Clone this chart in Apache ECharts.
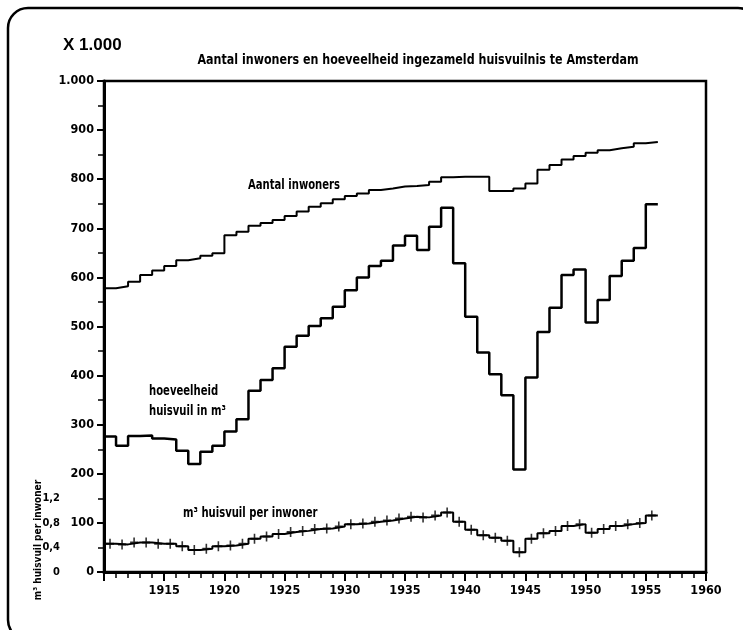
<!DOCTYPE html>
<html>
<head>
<meta charset="utf-8">
<script src="https://cdn.jsdelivr.net/npm/echarts@6/dist/echarts.min.js"></script>
<style>
  html, body { margin: 0; padding: 0; background: #fff; overflow: hidden; }
  #chart { width: 743px; height: 630px; }
</style>
</head>
<body>
<div id="chart"></div>
<script>
// jaren (elke stap = 1 jaar)
const years = [1910, 1911, 1912, 1913, 1914, 1915, 1916, 1917, 1918, 1919,
  1920, 1921, 1922, 1923, 1924, 1925, 1926, 1927, 1928, 1929,
  1930, 1931, 1932, 1933, 1934, 1935, 1936, 1937, 1938, 1939,
  1940, 1941, 1942, 1943, 1944, 1945, 1946, 1947, 1948, 1949,
  1950, 1951, 1952, 1953, 1954, 1955];

// aantal inwoners x 1.000
const inwoners = [578, 582, 591, 605, 614, 623, 635, 639, 644, 649,
  686, 693, 705, 711, 717, 725, 734, 744, 751, 759,
  766, 771, 778, 781, 785, 786, 788, 795, 804, 805,
  805, 805, 776, 776, 781, 791, 819, 829, 840, 847,
  854, 859, 863, 866, 873, 876];

// hoeveelheid huisvuil in m3 x 1.000
const huisvuil = [276, 257, 277, 278, 272, 270, 247, 220, 245, 257,
  286, 311, 369, 391, 415, 459, 481, 501, 517, 540,
  574, 600, 623, 634, 665, 685, 656, 703, 742, 629,
  520, 447, 403, 360, 209, 396, 489, 538, 605, 616,
  508, 554, 603, 634, 660, 749];

// m3 huisvuil per inwoner
const perInwoner = [0.46, 0.45, 0.48, 0.48, 0.46, 0.46, 0.42, 0.36, 0.38, 0.42,
  0.43, 0.46, 0.54, 0.58, 0.62, 0.65, 0.67, 0.70, 0.71, 0.74,
  0.78, 0.79, 0.82, 0.84, 0.87, 0.90, 0.89, 0.92, 0.97, 0.82,
  0.69, 0.60, 0.56, 0.51, 0.32, 0.54, 0.63, 0.67, 0.75, 0.78,
  0.64, 0.70, 0.75, 0.78, 0.80, 0.92];

const perInwonerTicks = [0, 0.4, 0.8, 1.2];

const narrow = "'DejaVu Sans Condensed', 'Liberation Sans Narrow', sans-serif";

// trap: waarde geldt van jaar tot jaar+1
function stepData(vals) {
  const d = years.map((y, i) => [y, vals[i]]);
  d.push([years[years.length - 1] + 1, vals[vals.length - 1]]);
  return d;
}

function label(text, x, y, size, sx, align) {
  return {
    type: 'text', x: x, y: y, scaleX: sx, scaleY: 1.05,
    style: { text: text, font: 'bold ' + size + 'px ' + narrow, fill: '#000', align: align || 'left', verticalAlign: 'middle' }
  };
}

const frameStyle = { fill: 'none', stroke: '#000', lineWidth: 2.5 };

const chart = echarts.init(document.getElementById('chart'), null, { renderer: 'canvas' });

const option = {
  animation: false,
  backgroundColor: '#fff',
  textStyle: { fontFamily: narrow, color: '#000' },
  grid: {
    left: 104, right: 37, top: 81, bottom: 58,
    show: true, borderColor: '#000', borderWidth: 2.5, backgroundColor: 'transparent'
  },
  xAxis: {
    type: 'value',
    min: 1910, max: 1960, interval: 5,
    axisLine: { lineStyle: { color: '#000', width: 3 } },
    axisTick: { length: 9, lineStyle: { color: '#000', width: 2 } },
    minorTick: { show: true, splitNumber: 5, length: 6, lineStyle: { color: '#000', width: 1.5 } },
    splitLine: { show: false },
    axisLabel: {
      margin: 12, color: '#000', fontFamily: narrow, fontWeight: 'bold', fontSize: 12.5,
      formatter: v => (v === 1910 ? '' : String(v))
    }
  },
  yAxis: [
    {
      type: 'value',
      min: 0, max: 1000, interval: 100,
      axisLine: { show: true, lineStyle: { color: '#000', width: 3 } },
      axisTick: { show: true, length: 7, lineStyle: { color: '#000', width: 2 } },
      minorTick: { show: true, splitNumber: 2, length: 6, lineStyle: { color: '#000', width: 1.5 } },
      splitLine: { show: false },
      axisLabel: {
        margin: 10, color: '#000', fontFamily: narrow, fontWeight: 'bold', fontSize: 12.5,
        formatter: v => (v === 1000 ? '1.000' : String(v))
      }
    },
    {
      type: 'value',
      position: 'left',
      offset: 40,
      min: 0, max: 8, interval: 0.4,
      axisLine: { show: false },
      axisTick: { show: false },
      splitLine: { show: false },
      axisLabel: {
        margin: 4, color: '#000', fontFamily: narrow, fontWeight: 'bold', fontSize: 11,
        formatter: v => {
          const t = perInwonerTicks.find(p => Math.abs(p - v) < 1e-6);
          if (t === undefined) return '';
          return t === 0 ? '0' : t.toFixed(1).replace('.', ',');
        }
      }
    }
  ],
  series: [
    {
      name: 'Aantal inwoners',
      type: 'line', step: 'end', showSymbol: false,
      data: stepData(inwoners),
      lineStyle: { color: '#000', width: 2 }
    },
    {
      name: 'hoeveelheid huisvuil in m³',
      type: 'line', step: 'end', showSymbol: false,
      data: stepData(huisvuil),
      lineStyle: { color: '#000', width: 2.5 }
    },
    {
      name: 'm³ huisvuil per inwoner',
      type: 'line', step: 'end', showSymbol: false,
      yAxisIndex: 1,
      data: stepData(perInwoner),
      lineStyle: { color: '#000', width: 2 }
    },
    {
      name: 'kruisjes',
      type: 'scatter',
      yAxisIndex: 1,
      symbol: 'path://M4,0h2v10h-2zM0,4h10v2h-10z',
      symbolSize: [8, 10],
      itemStyle: { color: '#000' },
      data: years.map((y, i) => [y + 0.5, perInwoner[i]])
    }
  ],
  graphic: [
    // kader rond de figuur: links, boven en de hoeken
    { type: 'line', silent: true, shape: { x1: 8, y1: 28, x2: 8, y2: 620 }, style: frameStyle },
    { type: 'line', silent: true, shape: { x1: 28, y1: 8, x2: 738, y2: 8 }, style: frameStyle },
    { type: 'arc', silent: true, shape: { cx: 28, cy: 28, r: 20, startAngle: Math.PI, endAngle: Math.PI * 1.5 }, style: frameStyle },
    { type: 'arc', silent: true, shape: { cx: 738, cy: 28, r: 20, startAngle: Math.PI * 1.5, endAngle: Math.PI * 2 }, style: frameStyle },
    { type: 'arc', silent: true, shape: { cx: 28, cy: 620, r: 20, startAngle: Math.PI * 0.5, endAngle: Math.PI }, style: frameStyle },
    {
      type: 'text', x: 63, y: 45,
      style: { text: 'X 1.000', font: 'bold 17px "Liberation Sans", Arial, sans-serif', fill: '#000', align: 'left', verticalAlign: 'middle' }
    },
    label('Aantal inwoners en hoeveelheid ingezameld huisvuilnis te Amsterdam', 418, 60, 13, 0.95, 'center'),
    label('Aantal inwoners', 248, 185, 13, 0.86),
    label('hoeveelheid', 149, 391, 13, 0.86),
    label('huisvuil in m³', 149, 411, 13, 0.86),
    label('m³ huisvuil per inwoner', 183, 513, 13, 0.86),
    {
      type: 'text', x: 38, y: 540, rotation: Math.PI / 2,
      style: { text: 'm³ huisvuil per inwoner', font: 'bold 10px ' + narrow, fill: '#000', align: 'center', verticalAlign: 'middle' }
    }
  ]
};

chart.setOption(option);
window.onresize = () => chart.resize();
</script>
</body>
</html>
